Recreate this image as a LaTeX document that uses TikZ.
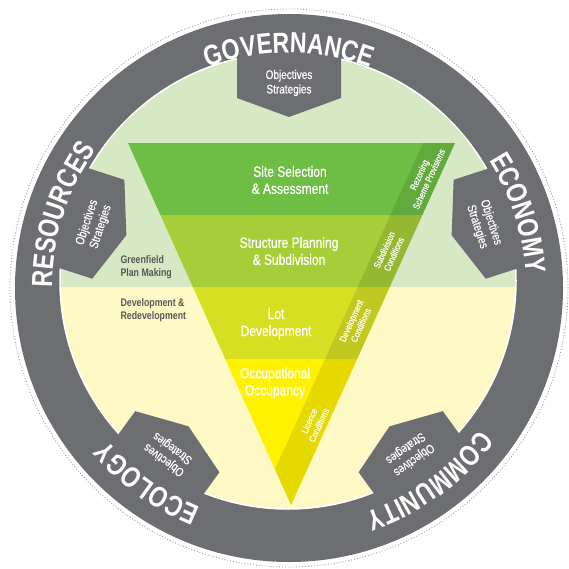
\documentclass[tikz,border=0pt]{standalone}
\usepackage{fontspec}
\setmainfont{Liberation Sans}[FakeStretch=0.8]
\newfontfamily\mediumfont{Liberation Sans}[FakeStretch=0.8, FakeBold=0.6]
\usetikzlibrary{decorations.text}
\definecolor{ringgrey}{RGB}{109,110,113}
\definecolor{palegreen}{RGB}{214,232,196}
\definecolor{paleyellow}{RGB}{255,249,197}
\definecolor{sitegreen}{RGB}{110,190,69}
\definecolor{planlime}{RGB}{166,206,57}
\definecolor{lotlime}{RGB}{215,223,35}
\definecolor{occyellow}{RGB}{255,242,0}
\definecolor{sidegrey}{RGB}{88,89,91}
\newcommand\ringfont{\fontsize{29}{30}\selectfont\bfseries}
\tikzset{
    ring-label/.style = {decorate, decoration={text along path, text align=center, text color=white, text={|\ringfont|#1}}},
    tab-shape/.style = {fill=ringgrey},
    tab-text/.style = {text=white, align=center, font=\mediumfont\fontsize{12.5}{14.5}\selectfont},
    level-text/.style = {text=white, align=center, font=\mediumfont\fontsize{15}{17}\selectfont},
    band-text/.style = {text=white, align=center, font=\mediumfont\fontsize{9.5}{10.5}\selectfont, rotate=65.6},
    side-text/.style = {text=sidegrey, align=left, anchor=west, font=\fontsize{11}{13}\selectfont\bfseries},
}

\begin{document}
\begin{tikzpicture}[x=1pt, y=1pt]
\useasboundingbox (0,0) rectangle (568,-569);
\coordinate (O) at (289,-288);
% outer ring and inner disc
\draw[ringgrey!70, dotted, line width=0.9] (O) circle[radius=279];
\fill[ringgrey] (O) circle[radius=274];
\begin{scope}
  \clip (288,-281) circle[radius=228];
  \fill[palegreen] (0,0) rectangle (568,-287);
  \fill[paleyellow] (0,-287) rectangle (568,-569);
\end{scope}
\draw[white, line width=1.5] (288,-281) circle[radius=228];
% tabs and ring labels
\begin{scope}[shift={(O)}]
  \fill[tab-shape] (-52,242) -- (-52,190) -- (0,171) -- (52,190) -- (52,242) -- cycle;
  \fill[tab-shape, rotate=-72] (-52,242) -- (-52,190) -- (0,171) -- (52,190) -- (52,242) -- cycle;
  \fill[tab-shape, rotate=-144] (-52,242) -- (-52,190) -- (0,171) -- (52,190) -- (52,242) -- cycle;
  \fill[tab-shape, rotate=144] (-52,242) -- (-52,190) -- (0,171) -- (52,190) -- (52,242) -- cycle;
  \fill[tab-shape, rotate=72] (-52,242) -- (-52,190) -- (0,171) -- (52,190) -- (52,242) -- cycle;
  \node[tab-text] (governance-tab) at (90:205) {Objectives\\Strategies};
  \node[tab-text, rotate=-72] (economy-tab) at (18:205) {Objectives\\Strategies};
  \node[tab-text, rotate=-144] (community-tab) at (-54:205) {Objectives\\Strategies};
  \node[tab-text, rotate=144] (ecology-tab) at (-126:205) {Objectives\\Strategies};
  \node[tab-text, rotate=72] (resources-tab) at (162:205) {Objectives\\Strategies};
  \path[ring-label=GOVERNANCE] (130:235) arc[start angle=130, end angle=50, radius=235];
  \path[ring-label=ECONOMY] (58:237) arc[start angle=58, end angle=-22, radius=237];
  \path[ring-label=COMMUNITY] (-14:237) arc[start angle=-14, end angle=-94, radius=237];
  \path[ring-label=ECOLOGY] (-86:237) arc[start angle=-86, end angle=-166, radius=237];
  \path[ring-label=RESOURCES] (202:237) arc[start angle=202, end angle=122, radius=237];
\end{scope}
% triangle of planning levels
\begin{scope}
  \clip (128,-143) -- (455,-143) -- (291,-505) -- cycle;
  \fill[sitegreen] (100,-143) rectangle (470,-215);
  \fill[planlime] (100,-215) rectangle (470,-287);
  \fill[lotlime] (100,-287) rectangle (470,-359);
  \fill[occyellow] (100,-359) rectangle (470,-510);
  \fill[black, opacity=0.1] (423,-143) -- (480,-143) -- (320,-520) -- (252,-520) -- cycle;
\end{scope}
\node[level-text] (site) at (290,-180) {Site Selection\\\& Assessment};
\node[level-text] (structure) at (289,-251) {Structure Planning\\\& Subdivision};
\node[level-text] (lot) at (276,-324) {Lot\\Development};
\node[level-text] (occupancy) at (275,-383) {Occupational\\Occupancy};
\node[band-text] (rezoning) at (424,-177) {Rezoning\\Scheme Provisions};
\node[band-text] (subdivision) at (389,-252) {Subdivision\\Conditions};
\node[band-text] (development) at (356,-323) {Development\\Conditions};
\node[band-text] (licence) at (314,-423) {Licence\\Conditions};
\node[side-text] (greenfield) at (117,-267) {Greenfield\\Plan Making};
\node[side-text] (redevelopment) at (117,-310) {Development \&\\Redevelopment};
\end{tikzpicture}
\end{document}
